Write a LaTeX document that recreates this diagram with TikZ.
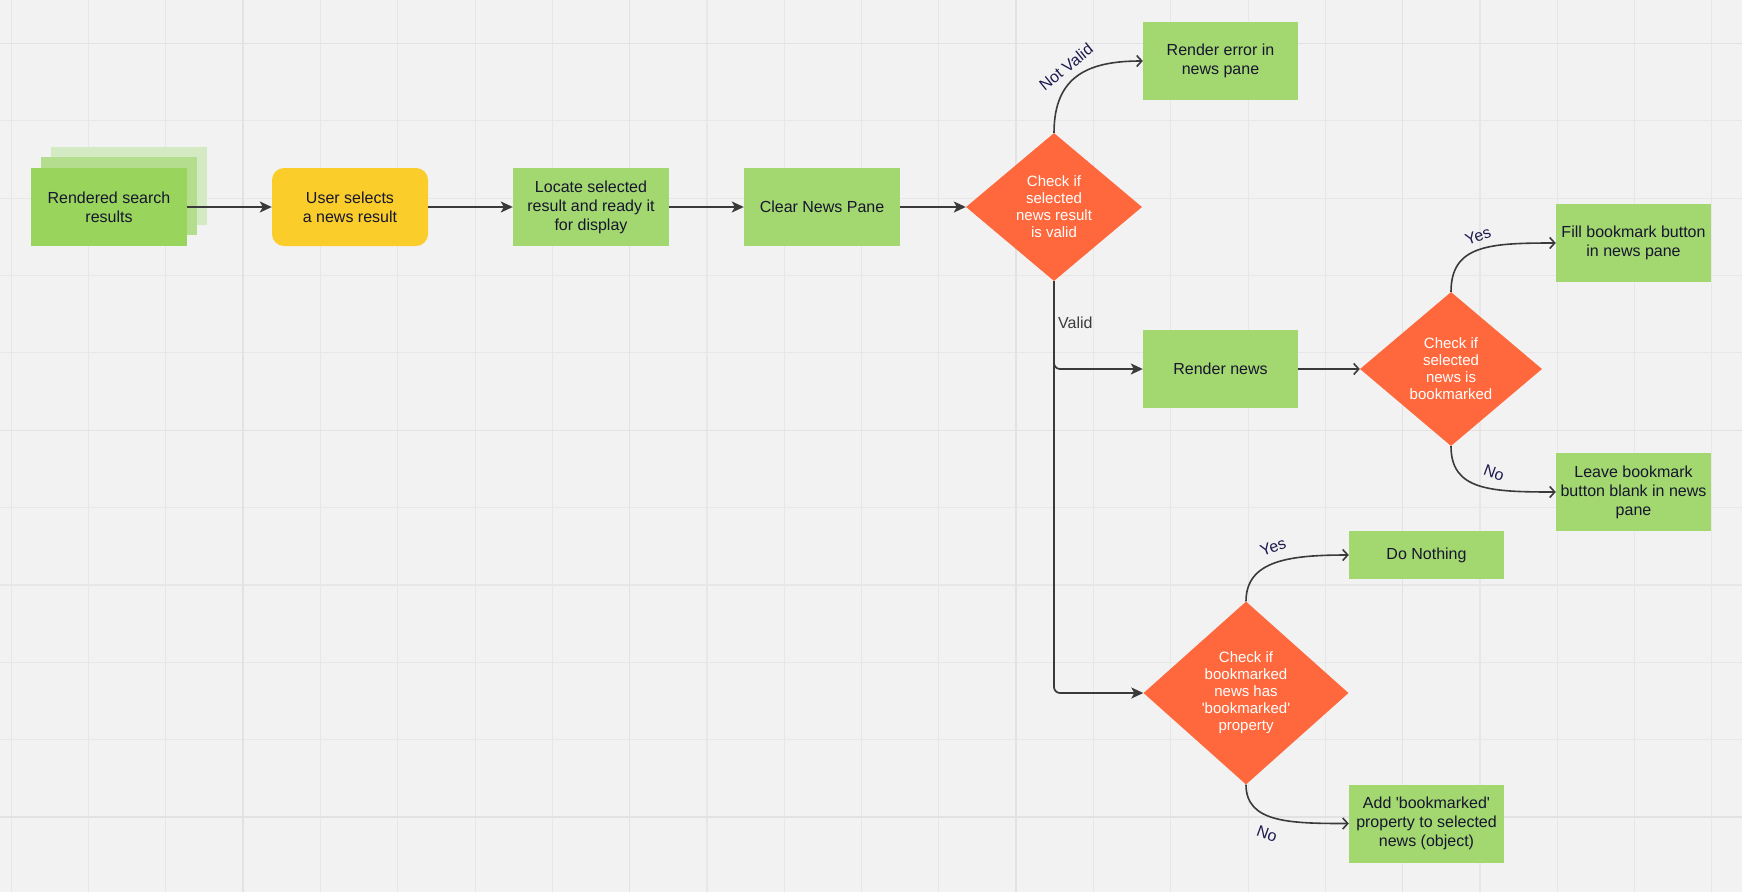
\documentclass[tikz,border=0pt]{standalone}
\usepackage{fontspec}
\newfontfamily\diagfont{Liberation Sans}
\usetikzlibrary{shapes.geometric,arrows.meta}
\definecolor{canvas}{HTML}{F2F2F2}
\definecolor{gridminor}{HTML}{E7E7E7}
\definecolor{gridmajor}{HTML}{E2E2E2}
\definecolor{leaf}{HTML}{A3D770}
\definecolor{leafA}{HTML}{99D45C}
\definecolor{leafB}{HTML}{B4DE8E}
\definecolor{leafC}{HTML}{D4EAC3}
\definecolor{amber}{HTML}{FACD2B}
\definecolor{coral}{HTML}{FE683C}
\definecolor{ink}{HTML}{16162E}
\definecolor{wire}{HTML}{3A3A3A}
\definecolor{tagink}{HTML}{1E1A4D}
\definecolor{plainlabel}{HTML}{3C3C3C}

\begin{document}
\begin{tikzpicture}[x=1pt,y=-1pt,
  box/.style={rectangle, fill=leaf, minimum width=156pt, minimum height=78pt,
    inner sep=0pt, align=center, text=ink, font=\fontsize{16}{19}\diagfont},
  decision/.style={diamond, fill=coral, text=white, inner sep=0pt, aspect=1.15,
    align=center, font=\fontsize{15}{17}\diagfont},
  flow/.style={draw=wire, line width=1.7pt,
    -{Stealth[length=12pt,width=11pt,inset=3pt]}},
  branch/.style={draw=wire, line width=1.6pt,
    -{Straight Barb[length=5pt,width=11pt]}},
  tag/.style={text=tagink, inner sep=1pt, font=\fontsize{16}{19}\diagfont},
]
% canvas and grid
\fill[canvas] (0,0) rectangle (1742,892);
\useasboundingbox (0,0) rectangle (1742,892);
\foreach \k in {0,...,22} {
  \pgfmathsetmacro\gx{11.3+77.3*\k}
  \draw[gridminor, line width=1.1pt] (\gx,0) -- (\gx,892);
}
\foreach \k in {0,...,10} {
  \pgfmathsetmacro\gy{43.5+77.35*\k}
  \draw[gridminor, line width=1.1pt] (0,\gy) -- (1742,\gy);
}
\foreach \k in {3,8,13,18} {
  \pgfmathsetmacro\gx{11.3+77.3*\k}
  \draw[gridmajor, line width=1.5pt] (\gx,0) -- (\gx,892);
}
\foreach \k in {0,5,10} {
  \pgfmathsetmacro\gy{43.5+77.35*\k}
  \draw[gridmajor, line width=1.5pt] (0,\gy) -- (1742,\gy);
}

% stacked search results
\node[box, fill=leafC] (stackback) at (129,186) {};
\node[box, fill=leafB] (stackmid) at (118.5,196) {};
\node[box, fill=leafA] (results) at (109,207) {Rendered search\\results};

% main row
\node[box, fill=amber, rounded corners=12pt] (user) at (350,207) {User selects\\a news result};
\node[box] (locate) at (591,207) {Locate selected\\result and ready it\\for display};
\node[box] (clear) at (822,207) {Clear News Pane};
\node[decision, minimum width=176pt, minimum height=148pt] (valid) at (1054,207)
  {Check if\\selected\\news result\\is valid};

% outcomes
\node[box, minimum width=155pt] (err) at (1220.5,61) {Render error in\\news pane};
\node[box, minimum width=155pt] (rnews) at (1220.5,369) {Render news};
\node[decision, minimum width=182pt, minimum height=154pt] (marked) at (1451,369)
  {Check if\\selected\\news is\\bookmarked};
\node[box, minimum width=155pt] (fill) at (1633.5,243) {Fill bookmark button\\in news pane};
\node[box, minimum width=155pt] (leave) at (1633.5,492) {Leave bookmark\\button blank in news\\pane};
\node[decision, minimum width=205pt, minimum height=183pt] (hasprop) at (1246,693)
  {Check if\\bookmarked\\news has\\'bookmarked'\\property};
\node[box, minimum width=155pt, minimum height=48pt] (nothing) at (1426.5,555) {Do Nothing};
\node[box, minimum width=155pt] (addprop) at (1426.5,823.5) {Add 'bookmarked'\\property to selected\\news (object)};

% connectors
\draw[flow] (results.east) -- (user.west);
\draw[flow] (user.east) -- (locate.west);
\draw[flow] (locate.east) -- (clear.west);
\draw[flow] (clear.east) -- (valid.west);
\draw[flow, rounded corners=6pt] (valid.south) |- (rnews.west);
\draw[flow, rounded corners=6pt] (valid.south) |- (hasprop.west);
\draw[branch] (rnews.east) -- (marked.west);
\draw[branch] (valid.north) .. controls +(0,-58) and +(-53,0) .. (err.west);
\draw[branch] (marked.north) .. controls +(0,-47) and +(-66,0) .. (fill.west);
\draw[branch] (marked.south) .. controls +(0,44) and +(-66,0) .. (leave.west);
\draw[branch] (hasprop.north) .. controls +(0,-41) and +(-59,0) .. (nothing.west);
\draw[branch] (hasprop.south) .. controls +(0,38) and +(-59,0) .. (addprop.west);

% connector labels
\node[tag, rotate=39] (lblnotvalid) at (1066,67) {Not Valid};
\node[anchor=west, inner sep=0pt, text=plainlabel, font=\fontsize{16}{19}\diagfont]
  (lblvalid) at (1058,323) {Valid};
\node[tag, rotate=20] (lblyes1) at (1478,236) {Yes};
\node[tag, rotate=-20] (lblno1) at (1494,473) {No};
\node[tag, rotate=20] (lblyes2) at (1273,547) {Yes};
\node[tag, rotate=-20] (lblno2) at (1267,834) {No};
\end{tikzpicture}
\end{document}
